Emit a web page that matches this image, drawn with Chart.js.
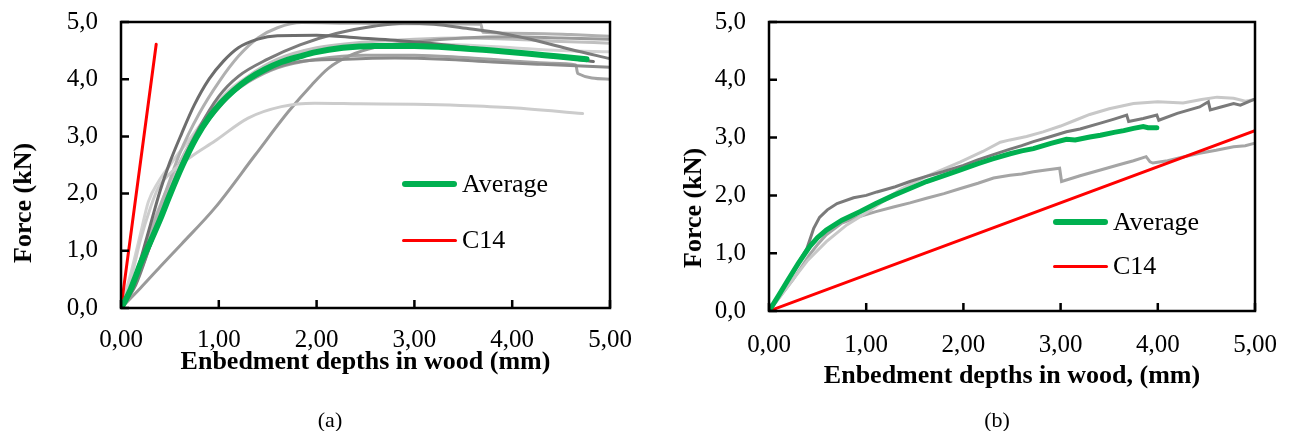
<!DOCTYPE html>
<html>
<head>
<meta charset="utf-8">
<script src="https://cdn.jsdelivr.net/npm/chart.js@4.4.0/dist/chart.umd.min.js"></script>
<style>
    body { margin: 0; background: #fff; width: 1291px; height: 431px; position: relative; overflow: hidden;
           font-family: "Liberation Serif", "Times New Roman", serif; color: #000; }
    canvas { position: absolute; top: 0; }
    #chartA { left: 0; }
    #chartB { left: 640px; }
    .y-title { position: absolute; font-weight: bold; font-size: 26px; line-height: 1; white-space: nowrap;
               transform: translate(-50%, -50%) rotate(-90deg); }
    .caption { position: absolute; font-size: 22px; line-height: 1; transform: translate(-50%, -50%); }
    .legend-item { position: absolute; display: flex; align-items: center; font-size: 26px; line-height: 1;
                   transform: translateY(-50%); }
    .legend-line { width: 55px; border-radius: 3px; margin-right: 5px; }
</style>
</head>
<body>
<canvas id="chartA" width="640" height="431"></canvas>
<canvas id="chartB" width="651" height="431"></canvas>
<div class="y-title" style="left:23px; top:203px;">Force (kN)</div>
<div class="y-title" style="left:693px; top:208px;">Force (kN)</div>
<div class="caption" style="left:330px; top:420px;">(a)</div>
<div class="caption" style="left:997px; top:420px;">(b)</div>
<div id="legendA"></div>
<div id="legendB"></div>
<script>
// tick labels
const xTickLabels = ['0,00', '1,00', '2,00', '3,00', '4,00', '5,00'];
const yTickLabels = ['0,0', '1,0', '2,0', '3,0', '4,0', '5,0'];

// (a) embedment depth [mm], force [kN]
const avgA = [[0,0],[0.05,0.15],[0.1,0.33],[0.15,0.55],[0.2,0.78],[0.28,1.08],[0.4,1.55],[0.5,1.98],[0.63,2.5],[0.77,2.98],[0.9,3.33],[1.03,3.6],[1.15,3.8],[1.3,4.0],[1.47,4.17],[1.64,4.3],[1.83,4.4],[1.98,4.47],[2.27,4.55],[2.6,4.58],[3.0,4.58],[3.47,4.54],[3.8,4.5],[4.15,4.45],[4.45,4.4],[4.76,4.35]];
const c14A = [[0,0],[0.36,4.61]];
const testA1 = [[0,0],[0.1,0.3],[0.2,0.85],[0.3,1.45],[0.4,2.05],[0.5,2.55],[0.62,3.05],[0.75,3.55],[0.9,4.0],[1.05,4.32],[1.2,4.55],[1.4,4.7],[1.6,4.76],[2.0,4.77],[2.44,4.72],[2.8,4.68],[3.2,4.62],[3.6,4.55],[4.0,4.47],[4.4,4.4],[4.83,4.31]];
const testA2 = [[0,0],[0.15,0.4],[0.3,1.1],[0.45,1.8],[0.6,2.45],[0.8,3.15],[1.0,3.7],[1.2,4.05],[1.5,4.35],[1.83,4.6],[2.2,4.8],[2.6,4.93],[2.9,4.98],[3.2,4.96],[3.53,4.89],[3.9,4.8],[4.21,4.69],[4.6,4.52],[5.0,4.36]];
const testA3 = [[0,0],[0.15,0.45],[0.3,1.1],[0.45,1.8],[0.6,2.4],[0.8,3.05],[1.0,3.5],[1.2,3.85],[1.5,4.15],[1.8,4.3],[2.3,4.35],[2.8,4.37],[3.3,4.35],[3.8,4.3],[4.3,4.26],[5.0,4.21]];
const testA4 = [[0,0],[0.1,0.5],[0.2,1.2],[0.3,1.75],[0.38,2.1],[0.5,2.35],[0.72,2.65],[0.96,2.92],[1.3,3.32],[1.64,3.52],[1.98,3.58],[2.44,3.57],[3.0,3.56],[3.47,3.54],[4.0,3.5],[4.72,3.4]];
const testA5 = [[0,0],[0.2,0.35],[0.4,0.72],[0.62,1.12],[0.96,1.75],[1.37,2.67],[1.71,3.43],[1.95,3.9],[2.12,4.19],[2.35,4.42],[2.6,4.56],[3.0,4.65],[3.5,4.72],[4.0,4.74],[4.5,4.72],[5.0,4.7]];
const testA6 = [[0,0],[0.15,0.5],[0.3,1.3],[0.45,2.0],[0.6,2.7],[0.8,3.4],[1.0,3.95],[1.2,4.4],[1.4,4.72],[1.6,4.9],[1.85,4.99],[2.3,4.98],[2.8,4.97],[3.3,4.97],[3.68,4.96],[3.7,4.82],[4.2,4.8],[4.6,4.78],[5.0,4.75]];
const testA7 = [[0,0],[0.15,0.55],[0.3,1.35],[0.45,2.0],[0.6,2.55],[0.8,3.15],[1.0,3.6],[1.3,4.05],[1.6,4.35],[2.0,4.55],[2.5,4.65],[3.0,4.7],[3.5,4.72],[4.0,4.7],[4.5,4.66],[5.0,4.63]];
const testA8 = [[0,0],[0.15,0.5],[0.3,1.2],[0.45,1.9],[0.6,2.5],[0.8,3.1],[1.0,3.55],[1.3,3.95],[1.6,4.2],[2.0,4.35],[2.5,4.42],[3.0,4.42],[3.5,4.38],[4.0,4.32],[4.4,4.28],[4.65,4.25],[4.67,4.1],[5.0,4.0]];
const testA9 = [[0,0],[0.1,0.6],[0.2,1.3],[0.28,1.86],[0.38,2.2],[0.5,2.5],[0.7,2.95],[0.9,3.4],[1.1,3.8],[1.4,4.15],[1.7,4.4],[2.0,4.52],[2.5,4.6],[3.0,4.62],[3.5,4.6],[4.0,4.55],[4.5,4.5],[5.0,4.48]];

// (b)
const avgB = [[0,0],[0.1,0.27],[0.2,0.55],[0.3,0.82],[0.42,1.12],[0.5,1.27],[0.59,1.4],[0.75,1.57],[0.94,1.72],[1.1,1.86],[1.28,2.0],[1.45,2.12],[1.62,2.24],[1.8,2.34],[1.97,2.44],[2.15,2.55],[2.3,2.63],[2.48,2.72],[2.6,2.77],[2.72,2.81],[2.9,2.9],[3.06,2.97],[3.15,2.96],[3.3,3.01],[3.41,3.04],[3.55,3.09],[3.65,3.12],[3.75,3.16],[3.85,3.19],[3.9,3.17],[3.99,3.17]];
const c14B = [[0,0],[5,3.12]];
const testB1 = [[0,0],[0.1,0.27],[0.2,0.55],[0.3,0.83],[0.39,1.08],[0.46,1.43],[0.52,1.62],[0.6,1.75],[0.7,1.86],[0.87,1.96],[1.0,2.0],[1.11,2.06],[1.3,2.15],[1.45,2.24],[1.6,2.32],[1.79,2.41],[2.0,2.52],[2.14,2.61],[2.3,2.7],[2.48,2.8],[2.6,2.86],[2.72,2.93],[2.9,3.02],[3.06,3.1],[3.2,3.15],[3.41,3.25],[3.55,3.32],[3.68,3.39],[3.7,3.28],[3.85,3.33],[3.99,3.39],[4.01,3.3],[4.2,3.42],[4.43,3.53],[4.52,3.62],[4.54,3.48],[4.65,3.53],[4.78,3.59],[4.85,3.56],[4.99,3.66]];
const testB2 = [[0,0],[0.1,0.22],[0.25,0.55],[0.4,0.88],[0.59,1.2],[0.8,1.49],[1.04,1.74],[1.2,1.93],[1.35,2.1],[1.62,2.33],[1.97,2.58],[2.2,2.76],[2.38,2.92],[2.48,2.96],[2.65,3.02],[2.82,3.1],[3.0,3.2],[3.15,3.3],[3.3,3.4],[3.5,3.5],[3.75,3.59],[4.0,3.62],[4.26,3.6],[4.45,3.66],[4.61,3.7],[4.78,3.68],[4.9,3.63],[5.0,3.66]];
const testB3 = [[0,0],[0.1,0.22],[0.25,0.55],[0.42,0.98],[0.5,1.15],[0.59,1.32],[0.75,1.52],[0.94,1.64],[1.1,1.72],[1.28,1.8],[1.45,1.87],[1.62,1.95],[1.8,2.03],[1.97,2.12],[2.15,2.21],[2.31,2.3],[2.48,2.35],[2.6,2.37],[2.72,2.41],[2.85,2.44],[2.99,2.47],[3.01,2.24],[3.2,2.34],[3.41,2.44],[3.6,2.53],[3.75,2.6],[3.88,2.67],[3.92,2.58],[3.95,2.56],[4.1,2.6],[4.25,2.66],[4.43,2.73],[4.6,2.78],[4.78,2.84],[4.9,2.86],[4.99,2.9]];

const testsA = [testA1, testA2, testA3, testA4, testA5, testA6, testA7, testA8, testA9];
const testsB = [testB1, testB2, testB3];
const grayA = ['#6d6d6d', '#7c7c7c', '#8a8a8a', '#cccccc', '#9a9a9a', '#b0b0b0', '#c0c0c0', '#a3a3a3', '#d2d2d2'];
const grayB = ['#7a7a7a', '#c8c8c8', '#a5a5a5'];

const toXY = arr => arr.map(p => ({x: p[0], y: p[1]}));

// box around plot + inward tick marks
const framePlugin = {
    id: 'frame',
    afterDatasetsDraw(chart) {
        const {ctx, chartArea: a, scales: {x, y}} = chart;
        ctx.save();
        ctx.strokeStyle = '#000';
        ctx.lineWidth = 2.5;
        ctx.strokeRect(a.left, a.top, a.right - a.left, a.bottom - a.top);
        ctx.beginPath();
        x.ticks.forEach(t => {
            const px = x.getPixelForValue(t.value);
            ctx.moveTo(px, a.bottom);
            ctx.lineTo(px, a.bottom - 8);
        });
        y.ticks.forEach(t => {
            const py = y.getPixelForValue(t.value);
            ctx.moveTo(a.left, py);
            ctx.lineTo(a.left + 8, py);
        });
        ctx.stroke();
        ctx.restore();
    }
};

function makeChart(id, opt) {
    const datasets = [
        { label: 'Average', data: toXY(opt.avg), borderColor: '#00b050', backgroundColor: '#00b050',
          borderWidth: opt.avgWidth, borderCapStyle: 'round', cubicInterpolationMode: opt.smooth ? 'monotone' : 'default' },
        { label: 'C14', data: toXY(opt.c14), borderColor: '#ff0000', backgroundColor: '#ff0000',
          borderWidth: 3, borderCapStyle: 'round' }
    ];
    opt.tests.forEach((t, i) => {
        datasets.push({ label: 'Test ' + (i + 1), data: toXY(t), borderColor: opt.grays[i],
            borderWidth: 3, borderCapStyle: 'round', cubicInterpolationMode: opt.smooth ? 'monotone' : 'default' });
    });
    const tickFont = { family: '"Liberation Serif", "Times New Roman", serif', size: 25 };
    return new Chart(document.getElementById(id), {
        type: 'line',
        data: { datasets: datasets },
        options: {
            responsive: false,
            animation: false,
            elements: { point: { radius: 0 }, line: { tension: 0 } },
            layout: { padding: { left: 0, top: 22, right: opt.padRight, bottom: 0 } },
            scales: {
                x: {
                    type: 'linear', min: 0, max: 5,
                    grid: { display: false, drawTicks: false },
                    border: { display: false },
                    ticks: { stepSize: 1, maxRotation: 0, padding: opt.xTickPad, color: '#000', font: tickFont,
                             callback: (v, i) => xTickLabels[i] },
                    title: { display: true, text: opt.xTitle, color: '#000',
                             font: { family: '"Liberation Serif", "Times New Roman", serif', size: 26, weight: 'bold' },
                             padding: { top: 0, bottom: opt.xTitlePad } },
                    afterFit: s => { s.height = opt.xHeight; s.paddingLeft = 0; s.paddingRight = 0; }
                },
                y: {
                    min: 0, max: 5,
                    grid: { display: false, drawTicks: false },
                    border: { display: false },
                    ticks: { stepSize: 1, padding: 23, color: '#000', font: tickFont,
                             callback: (v, i) => yTickLabels[i] },
                    afterFit: s => { s.width = opt.yWidth; s.paddingTop = 0; s.paddingBottom = 0; }
                }
            },
            plugins: { legend: { display: false }, tooltip: { enabled: false } }
        },
        plugins: [framePlugin]
    });
}

const chartA = makeChart('chartA', {
    avg: avgA, c14: c14A, tests: testsA, grays: grayA, smooth: true, avgWidth: 6,
    xTitle: 'Enbedment depths in wood (mm)', padRight: 30, xHeight: 123, yWidth: 121, xTickPad: 17, xTitlePad: 53
});
const chartB = makeChart('chartB', {
    avg: avgB, c14: c14B, tests: testsB, grays: grayB, smooth: false, avgWidth: 5,
    xTitle: 'Enbedment depths in wood, (mm)', padRight: 36, xHeight: 120, yWidth: 129, xTickPad: 19, xTitlePad: 39
});

// custom legend from the first two datasets
function buildLegend(chart, boxId, left, rowTops) {
    const box = document.getElementById(boxId);
    chart.data.datasets.slice(0, 2).forEach((dataset, index) => {
        const item = document.createElement('div');
        item.classList.add('legend-item');
        item.style.left = left + 'px';
        item.style.top = rowTops[index] + 'px';

        const line = document.createElement('div');
        line.classList.add('legend-line');
        line.style.height = (index === 0 ? 6 : 3) + 'px';
        line.style.background = dataset.borderColor;
        item.appendChild(line);

        const label = document.createElement('span');
        label.textContent = dataset.label;
        item.appendChild(label);

        box.appendChild(item);
    });
}
buildLegend(chartA, 'legendA', 402, [184, 240]);
buildLegend(chartB, 'legendB', 1053, [222, 266]);
</script>
</body>
</html>
